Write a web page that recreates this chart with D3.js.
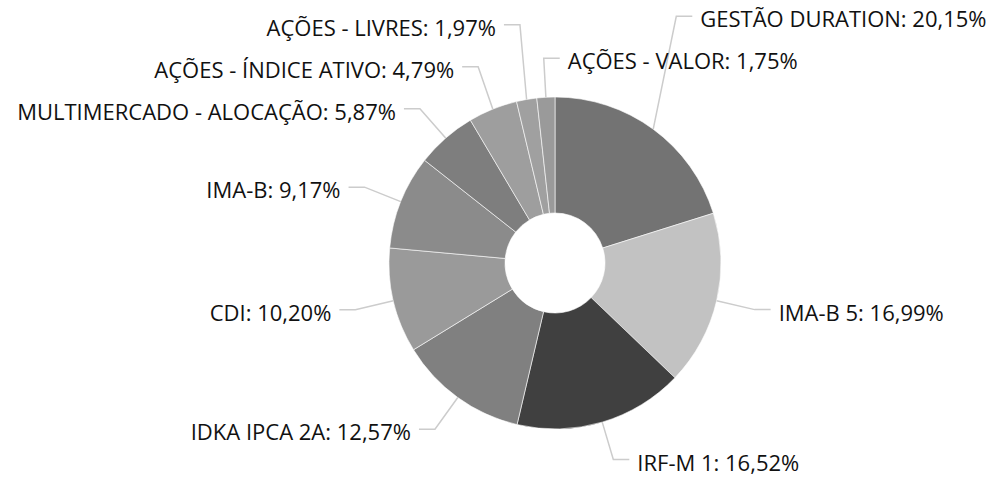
<!DOCTYPE html>
<html>
<head>
<meta charset="utf-8">
<script src="https://cdn.jsdelivr.net/npm/d3@7"></script>
<style>
  body { margin: 0; background: #fff; }
  svg text { font-family: "Open Sans", sans-serif; }
</style>
</head>
<body>
<svg width="990" height="480"></svg>
<script>
// data
const categories = ["GESTÃO DURATION", "IMA-B 5", "IRF-M 1", "IDKA IPCA 2A", "CDI", "IMA-B",
  "MULTIMERCADO - ALOCAÇÃO", "AÇÕES - ÍNDICE ATIVO", "AÇÕES - LIVRES", "AÇÕES - VALOR"];
const values = [20.15, 16.99, 16.52, 12.57, 10.20, 9.17, 5.87, 4.79, 1.97, 1.75];
const colors = ["#737373", "#c2c2c2", "#404040", "#808080", "#9a9a9a", "#8b8b8b",
  "#7e7e7e", "#9e9e9e", "#a0a0a0", "#9a9a9a"];

let svg = d3.select("svg"),
  cx = 555, cy = 263,
  rOuter = 166, rInner = 50,
  rBend = 205,   // where the leader line bends
  len2 = 16,     // horizontal part of the leader
  gap = 42,      // min vertical distance between labels
  topLimit = -cy + 8;

let fmt = v => d3.format(".2f")(v).replace(".", ",") + "%";

let pie = d3.pie().sort(null).value(d => d)(values);
let arc = d3.arc().innerRadius(rInner).outerRadius(rOuter);

let g = svg.append("g").attr("transform", "translate(" + cx + "," + cy + ")");

g.selectAll("path.slice")
  .data(pie)
  .enter().append("path")
  .attr("class", "slice")
  .attr("d", arc)
  .attr("fill", (d, i) => colors[i])
  .attr("stroke", "#fff")
  .attr("stroke-width", 0.6);

// label layout: natural spot on a circle, then push labels up when they collide
let labels = pie.map((d, i) => {
  let a = (d.startAngle + d.endAngle) / 2;
  return {
    i: i, a: a,
    ax: Math.sin(a) * rOuter, ay: -Math.cos(a) * rOuter,
    bx: Math.sin(a) * rBend, y0: -Math.cos(a) * rBend,
    right: Math.sin(a) >= 0, pinned: false
  };
});

function stack(list) {
  list.sort((a, b) => a.y0 - b.y0);
  let pins = list.filter(l => l.pinned);
  pins.forEach(p => p.y = p.y0);
  let limit = Infinity;
  for (let k = list.length - 1; k >= 0; k--) {
    let l = list[k];
    if (l.pinned) continue;
    let y = Math.min(l.y0, limit - gap);
    pins.forEach(p => { if (Math.abs(y - p.y) < gap) y = p.y - gap; });
    l.y = y;
    limit = y;
  }
}

let leftSide = labels.filter(l => !l.right),
  rightSide = labels.filter(l => l.right);
stack(leftSide);
// labels that run off the top move over to the other column
leftSide.filter(l => l.y < topLimit).forEach(l => { l.right = true; l.pinned = true; });
stack(rightSide.concat(labels.filter(l => l.pinned)));

let line = d3.line();

g.selectAll("path.leader")
  .data(labels)
  .enter().append("path")
  .attr("class", "leader")
  .attr("d", l => {
    let s = l.right ? 1 : -1;
    return line([[l.ax, l.ay], [l.bx, l.y], [l.bx + s * len2, l.y]]);
  })
  .attr("fill", "none")
  .attr("stroke", "#cccccc")
  .attr("stroke-width", 1.5);

g.selectAll("text.lbl")
  .data(labels)
  .enter().append("text")
  .attr("class", "lbl")
  .attr("x", l => l.bx + (l.right ? 1 : -1) * (len2 + 8))
  .attr("y", l => l.y + 11)
  .attr("text-anchor", l => l.right ? "start" : "end")
  .style("font-size", "22px")
  .style("fill", "#111")
  .text(l => categories[l.i] + ": " + fmt(values[l.i]));
</script>
</body>
</html>
